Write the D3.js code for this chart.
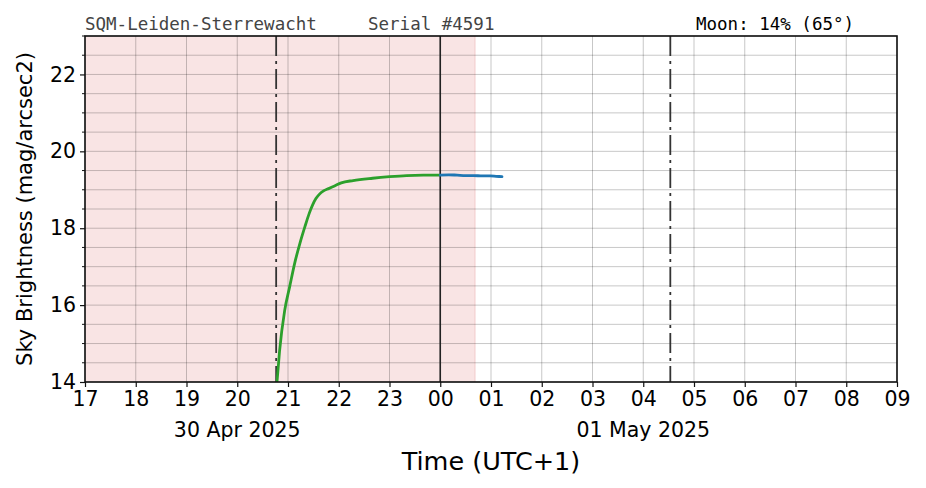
<!DOCTYPE html>
<html>
<head>
<meta charset="utf-8">
<script src="https://cdn.jsdelivr.net/npm/d3@7"></script>
<style>
  html, body { margin: 0; padding: 0; background: #fff; }
  svg { display: block; }
</style>
</head>
<body>
<svg id="chart" width="926" height="488"></svg>
<script>
// ---------- data ----------
const greenTimes = [
  "2025-04-30 20:47", "2025-04-30 20:50", "2025-04-30 20:56", "2025-04-30 21:02",
  "2025-04-30 21:08", "2025-04-30 21:14", "2025-04-30 21:20", "2025-04-30 21:25",
  "2025-04-30 21:29", "2025-04-30 21:33", "2025-04-30 21:37", "2025-04-30 21:42",
  "2025-04-30 21:48", "2025-04-30 21:55", "2025-04-30 22:03", "2025-04-30 22:17",
  "2025-04-30 22:40", "2025-04-30 23:00", "2025-04-30 23:20", "2025-04-30 23:40",
  "2025-05-01 00:00"
];
const greenValues = [
  14.0, 14.8, 15.85, 16.48,
  17.1, 17.6, 18.04, 18.38,
  18.6, 18.77, 18.88, 18.97,
  19.03, 19.1, 19.18, 19.24,
  19.30, 19.34, 19.37, 19.38,
  19.38
];
const blueTimes = [
  "2025-05-01 00:00", "2025-05-01 00:10", "2025-05-01 00:20", "2025-05-01 00:30",
  "2025-05-01 00:39", "2025-05-01 00:50", "2025-05-01 00:59", "2025-05-01 01:06",
  "2025-05-01 01:13"
];
const blueValues = [19.38, 19.39, 19.38, 19.37, 19.37, 19.36, 19.36, 19.35, 19.34];

const domainTimes = ["2025-04-30 17:00", "2025-05-01 09:00"];
const yDomain = [14, 23];
const yMajorTicks = [14, 16, 18, 20, 22];
const dateLabels = ["30 Apr 2025", "01 May 2025"];
const dateLabelTimes = ["2025-04-30 20:00", "2025-05-01 04:00"];
const twilightTimes = ["2025-04-30 20:46", "2025-05-01 04:32"];
const midnightTime = "2025-05-01 00:00";
const shadeTimes = ["2025-04-30 17:00", "2025-05-01 00:41"];
const titleLeft = "SQM-Leiden-Sterrewacht";
const titleSerial = "Serial #4591";
const titleMoon = "Moon: 14% (65°)";
const xLabel = "Time (UTC+1)";
const yLabel = "Sky Brightness (mag/arcsec2)";

// ---------- layout ----------
const parse = d3.utcParse("%Y-%m-%d %H:%M");
const margin = {left: 85, right: 29, top: 36, bottom: 106};
const W = 926, H = 488;
const iw = W - margin.left - margin.right;
const ih = H - margin.top - margin.bottom;

const svg = d3.select("#chart");
const g = svg.append("g").attr("transform", `translate(${margin.left},${margin.top})`);

const x = d3.scaleUtc().domain(domainTimes.map(parse)).range([0, iw]);
const y = d3.scaleLinear().domain(yDomain).range([ih, 0]);

// shading
g.append("rect")
  .attr("x", x(parse(shadeTimes[0])))
  .attr("y", 0)
  .attr("width", x(parse(shadeTimes[1])) - x(parse(shadeTimes[0])))
  .attr("height", ih)
  .attr("fill", "#f9e4e4");
g.append("line")
  .attr("x1", x(parse(shadeTimes[1]))).attr("x2", x(parse(shadeTimes[1])))
  .attr("y1", 0).attr("y2", ih)
  .attr("stroke", "#f4d0d0").attr("stroke-width", 1.2);

// grid
const hourTicks = x.ticks(d3.utcHour.every(1));
g.append("g").selectAll("line").data(hourTicks).join("line")
  .attr("x1", d => x(d)).attr("x2", d => x(d))
  .attr("y1", 0).attr("y2", ih)
  .attr("stroke", "#000").attr("stroke-opacity", 0.28).attr("stroke-width", 0.8);
const yGrid = d3.range(yDomain[0], yDomain[1] + 0.001, 0.5);
g.append("g").selectAll("line").data(yGrid).join("line")
  .attr("x1", 0).attr("x2", iw)
  .attr("y1", d => y(d)).attr("y2", d => y(d))
  .attr("stroke", "#000").attr("stroke-opacity", 0.28).attr("stroke-width", 0.8);

// vertical markers
g.append("line")
  .attr("x1", x(parse(midnightTime))).attr("x2", x(parse(midnightTime)))
  .attr("y1", 0).attr("y2", ih)
  .attr("stroke", "#222").attr("stroke-width", 1.6);
g.append("g").selectAll("line").data(twilightTimes).join("line")
  .attr("x1", d => x(parse(d))).attr("x2", d => x(parse(d)))
  .attr("y1", 0).attr("y2", ih)
  .attr("stroke", "#333").attr("stroke-width", 1.8)
  .attr("stroke-dasharray", "20,5,3,5");

// series
const line = d3.line().x(d => x(d[0])).y(d => y(d[1])).curve(d3.curveMonotoneX);
const green = greenTimes.map((t, i) => [parse(t), greenValues[i]]);
const blue = blueTimes.map((t, i) => [parse(t), blueValues[i]]);
g.append("path").datum(green).attr("d", line)
  .attr("fill", "none").attr("stroke", "#2ca02c").attr("stroke-width", 2.8)
  .attr("stroke-linejoin", "round");
g.append("path").datum(blue).attr("d", line)
  .attr("fill", "none").attr("stroke", "#1f77b4").attr("stroke-width", 2.8)
  .attr("stroke-linejoin", "round").attr("stroke-linecap", "round");

// frame
g.append("rect").attr("x", 0).attr("y", 0).attr("width", iw).attr("height", ih)
  .attr("fill", "none").attr("stroke", "#111").attr("stroke-width", 1.6);

// axes
const fontFam = "'DejaVu Sans', sans-serif";
const tickFont = 20.5;
const xAxis = g.append("g").attr("transform", `translate(0,${ih})`)
  .call(d3.axisBottom(x).ticks(d3.utcHour.every(1)).tickFormat(d3.utcFormat("%H")).tickSize(5).tickPadding(4));
xAxis.select(".domain").remove();
xAxis.selectAll("line").attr("stroke", "#111").attr("stroke-width", 1.2);
xAxis.selectAll("text").attr("font-family", fontFam).attr("font-size", tickFont).attr("fill", "#000");

const yAxis = g.append("g")
  .call(d3.axisLeft(y).tickValues(yMajorTicks).tickFormat(d3.format("d")).tickSize(5).tickPadding(4));
yAxis.select(".domain").remove();
yAxis.selectAll("line").attr("stroke", "#111").attr("stroke-width", 1.2);
yAxis.selectAll("text").attr("font-family", fontFam).attr("font-size", tickFont).attr("fill", "#000");
const yMinor = yGrid.filter(v => !yMajorTicks.includes(v));
g.append("g").selectAll("line").data(yMinor).join("line")
  .attr("x1", -3).attr("x2", 0)
  .attr("y1", d => y(d)).attr("y2", d => y(d))
  .attr("stroke", "#111").attr("stroke-width", 1);

// date labels
g.append("g").selectAll("text").data(dateLabels).join("text")
  .attr("x", (d, i) => x(parse(dateLabelTimes[i])))
  .attr("y", ih + 55)
  .attr("text-anchor", "middle")
  .attr("font-family", fontFam).attr("font-size", tickFont)
  .text(d => d);

// axis labels
svg.append("text")
  .attr("x", margin.left + iw / 2).attr("y", 470)
  .attr("text-anchor", "middle")
  .attr("font-family", fontFam).attr("font-size", 25.5)
  .text(xLabel);
svg.append("text")
  .attr("transform", `translate(32,${margin.top + ih / 2}) rotate(-90)`)
  .attr("text-anchor", "middle")
  .attr("font-family", fontFam).attr("font-size", 21)
  .text(yLabel);

// titles
const mono = "'DejaVu Sans Mono', monospace";
svg.append("text").attr("x", 85).attr("y", 30)
  .attr("font-family", mono).attr("font-size", 17.5).attr("fill", "#444").text(titleLeft);
svg.append("text").attr("x", 368).attr("y", 30)
  .attr("font-family", mono).attr("font-size", 17.5).attr("fill", "#444").text(titleSerial);
svg.append("text").attr("x", 696).attr("y", 30)
  .attr("font-family", mono).attr("font-size", 17.5).attr("fill", "#000").text(titleMoon);
</script>
</body>
</html>
